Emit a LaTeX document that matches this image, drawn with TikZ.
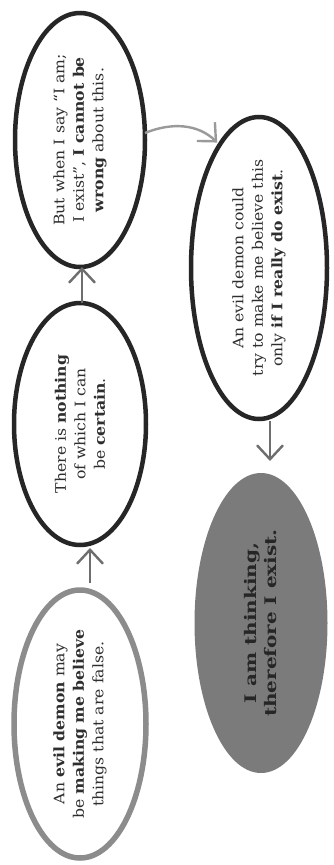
\documentclass[tikz,border=0pt]{standalone}
\usepackage{fontspec}
\setmainfont{DejaVu Serif}[FakeStretch=1.08]
\newfontfamily\heavyfont{DejaVu Serif}[FakeStretch=1.25]
\usetikzlibrary{shapes.geometric,arrows.meta}
\definecolor{txt}{HTML}{2E2E2E}
\definecolor{inkdark}{HTML}{262626}
\definecolor{inkgray}{HTML}{8C8C8C}
\definecolor{arrgray}{HTML}{6E6E6E}
\definecolor{arrlight}{HTML}{9A9A9A}
\definecolor{fillgray}{HTML}{7B7B7B}
\begin{document}
\begin{tikzpicture}[x=1pt,y=-1pt,
  bub/.style={ellipse, rotate=90, inner ysep=0pt, inner xsep=-25pt, outer sep=0pt, align=center,
    font=\fontsize{14.5}{19.5}\selectfont, text=txt},
  darkbub/.style={bub, draw=inkdark, line width=4.5pt},
  graybub/.style={bub, draw=inkgray, line width=5.5pt},
  fillbub/.style={bub, fill=fillgray, font=\heavyfont\fontsize{16}{20}\selectfont\bfseries, text=black!85},
  arr/.style={draw=arrgray, line width=2.4pt, -{Straight Barb[length=14pt,width=26pt,line width=2.4pt]}},
  arrl/.style={arr, draw=arrlight}
]
\useasboundingbox (0,0) rectangle (333,865);
\fill[white] (0,0) rectangle (333,865);

\node[graybub, minimum width=268pt, minimum height=132pt] (e1) at (80,724)
  {An \textbf{evil demon} may\\ be \textbf{making me believe}\\ things that are false.};
\node[darkbub, minimum width=242pt, minimum height=132pt] (e2) at (80,424)
  {There is \textbf{nothing}\\ of which I can\\ be \textbf{certain}.};
\node[darkbub, minimum width=254pt, minimum height=130pt] (e3) at (80,140)
  {But when I say ``I am;\\ I exist'', \textbf{I cannot be}\\ \textbf{wrong} about this.};
\node[darkbub, minimum width=302pt, minimum height=136pt] (e4) at (259,268)
  {An evil demon could\\ try to make me believe this\\ only \textbf{if I really do exist}.};
\node[fillbub, minimum width=300pt, minimum height=133pt] (e5) at (261,623)
  {I am thinking,\\ therefore I exist.};

\draw[arr] ([xshift=10pt,yshift=7pt]e1.east) -- ([xshift=10pt,yshift=-3pt]e2.west);
\draw[arr] ([xshift=2pt]e2.east) -- ([xshift=2pt]e3.west);
\draw[arr] ([xshift=11pt,yshift=-2pt]e4.west) -- ([xshift=9pt,yshift=12pt]e5.east);
\draw[arrl] ([yshift=7pt]e3.south) .. controls (172,122) and (198,124) .. ([shift={(-2pt,3pt)}]e4.18);
\end{tikzpicture}
\end{document}
